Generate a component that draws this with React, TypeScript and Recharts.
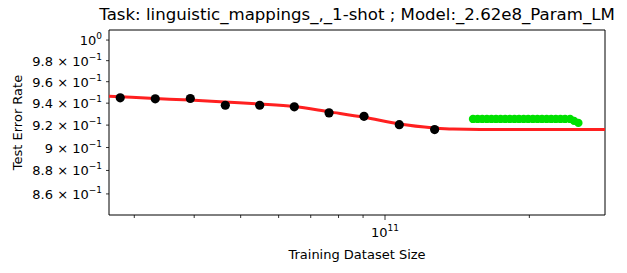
import React from "react";
import {
  ComposedChart,
  Line,
  Scatter,
  XAxis,
  YAxis,
  ReferenceArea,
} from "recharts";

const observedSize = [2.804e10, 3.318e10, 3.926e10, 4.645e10, 5.479e10, 6.469e10, 7.643e10, 9.04e10, 1.071e11, 1.269e11];
const observedError = [0.9449, 0.944, 0.9443, 0.9381, 0.9381, 0.9366, 0.9311, 0.928, 0.9204, 0.916];

const fitSize = [2.657e10, 2.8e10, 3.313e10, 3.92e10, 4.638e10, 5.487e10, 6.46e10, 7.654e10, 9.05e10, 1.071e11, 1.265e11, 1.386e11, 1.579e11, 2.106e11, 2.876e11];
const fitError = [0.9464, 0.9459, 0.9443, 0.9429, 0.941, 0.9392, 0.9369, 0.932, 0.9271, 0.921, 0.9175, 0.9164, 0.916, 0.916, 0.916];

const predSize = [1.526e11, 1.56e11, 1.595e11, 1.631e11, 1.667e11, 1.704e11, 1.742e11, 1.781e11, 1.821e11, 1.862e11, 1.903e11, 1.946e11, 1.989e11, 2.034e11, 2.079e11, 2.125e11, 2.173e11, 2.221e11, 2.271e11, 2.322e11, 2.374e11, 2.432e11, 2.479e11, 2.531e11];
const predError = [0.9256, 0.9256, 0.9256, 0.9256, 0.9256, 0.9256, 0.9256, 0.9256, 0.9256, 0.9256, 0.9256, 0.9256, 0.9256, 0.9256, 0.9256, 0.9256, 0.9256, 0.9256, 0.9256, 0.9256, 0.9256, 0.9256, 0.9238, 0.922];

const xTicks = [3e10, 4e10, 5e10, 6e10, 7e10, 8e10, 9e10, 1e11, 2e11];
const yTicks = [0.86, 0.88, 0.9, 0.92, 0.94, 0.96, 0.98, 1.0];
const yTickText = ["8.6 × 10", "8.8 × 10", "9 × 10", "9.2 × 10", "9.4 × 10", "9.6 × 10", "9.8 × 10", "10"];
const yTickExp = ["−1", "−1", "−1", "−1", "−1", "−1", "−1", "0"];

const X_DOMAIN = [2.657e10, 2.876e11];
const Y_DOMAIN = [0.8424, 1.0099];

const observed = observedSize.map((x, i) => ({ x, y: observedError[i] }));
const fit = fitSize.map((x, i) => ({ x, y: fitError[i] }));
const pred = predSize.map((x, i) => ({ x, y: predError[i] }));

const FONT = "DejaVu Sans, sans-serif";

function XTick({ x, y, payload }: any) {
  const major = payload.value === 1e11;
  return (
    <g>
      <line x1={x} x2={x} y1={y} y2={y + (major ? 5 : 3)} stroke="#000" strokeWidth={0.8} />
      {major && (
        <text x={x} y={y + 22} textAnchor="middle" fontSize={13} fontFamily={FONT} fill="#000">
          <tspan>10</tspan>
          <tspan dy={-6} fontSize={9}>11</tspan>
        </text>
      )}
    </g>
  );
}

function YTick({ x, y, payload }: any) {
  const i = yTicks.indexOf(payload.value);
  return (
    <g>
      <line x1={x - 3} x2={x} y1={y} y2={y} stroke="#000" strokeWidth={0.8} />
      <text x={x - 7} y={y + 5} textAnchor="end" fontSize={13} fontFamily={FONT} fill="#000">
        <tspan>{yTickText[i]}</tspan>
        <tspan dy={-6} fontSize={9}>{yTickExp[i]}</tspan>
      </text>
    </g>
  );
}

const blackDot = (p: any) => <circle cx={p.cx} cy={p.cy} r={4.6} fill="#000" />;
const greenDot = (p: any) => <circle cx={p.cx} cy={p.cy} r={4.2} fill="#00e000" />;

export default function App() {
  return (
    <div style={{ position: "absolute", left: 0, top: 0, width: 627, height: 273, background: "#fff" }}>
      <ComposedChart width={627} height={273} margin={{ top: 30, right: 22, bottom: 0, left: 0 }}>
        <XAxis
          dataKey="x"
          type="number"
          scale="log"
          domain={X_DOMAIN}
          allowDataOverflow
          ticks={xTicks}
          interval={0}
          tick={<XTick />}
          tickLine={false}
          tickSize={0}
          tickMargin={0}
          axisLine={false}
          height={58}
        />
        <YAxis
          dataKey="y"
          type="number"
          scale="log"
          domain={Y_DOMAIN}
          allowDataOverflow
          ticks={yTicks}
          interval={0}
          tick={<YTick />}
          tickLine={false}
          tickSize={0}
          tickMargin={0}
          axisLine={false}
          width={109}
        />
        <Scatter data={observed} dataKey="y" shape={blackDot} isAnimationActive={false} />
        <Line data={fit} dataKey="y" type="monotone" stroke="#ff2020" strokeWidth={3} dot={false} isAnimationActive={false} />
        <Scatter data={pred} dataKey="y" shape={greenDot} isAnimationActive={false} />
        <ReferenceArea x1={X_DOMAIN[0]} x2={X_DOMAIN[1]} y1={Y_DOMAIN[0]} y2={Y_DOMAIN[1]} fill="none" stroke="#000" strokeWidth={1} fillOpacity={0} />
        <text x={357} y={20} textAnchor="middle" fontSize={16.6} fontFamily={FONT} fill="#000">
          Task: linguistic_mappings_,_1-shot ; Model:_2.62e8_Param_LM
        </text>
        <text x={357} y={259} textAnchor="middle" fontSize={13} fontFamily={FONT} fill="#000">
          Training Dataset Size
        </text>
        <text x={0} y={0} transform="translate(21.5,122.5) rotate(-90)" textAnchor="middle" fontSize={13} fontFamily={FONT} fill="#000">
          Test Error Rate
        </text>
      </ComposedChart>
    </div>
  );
}
